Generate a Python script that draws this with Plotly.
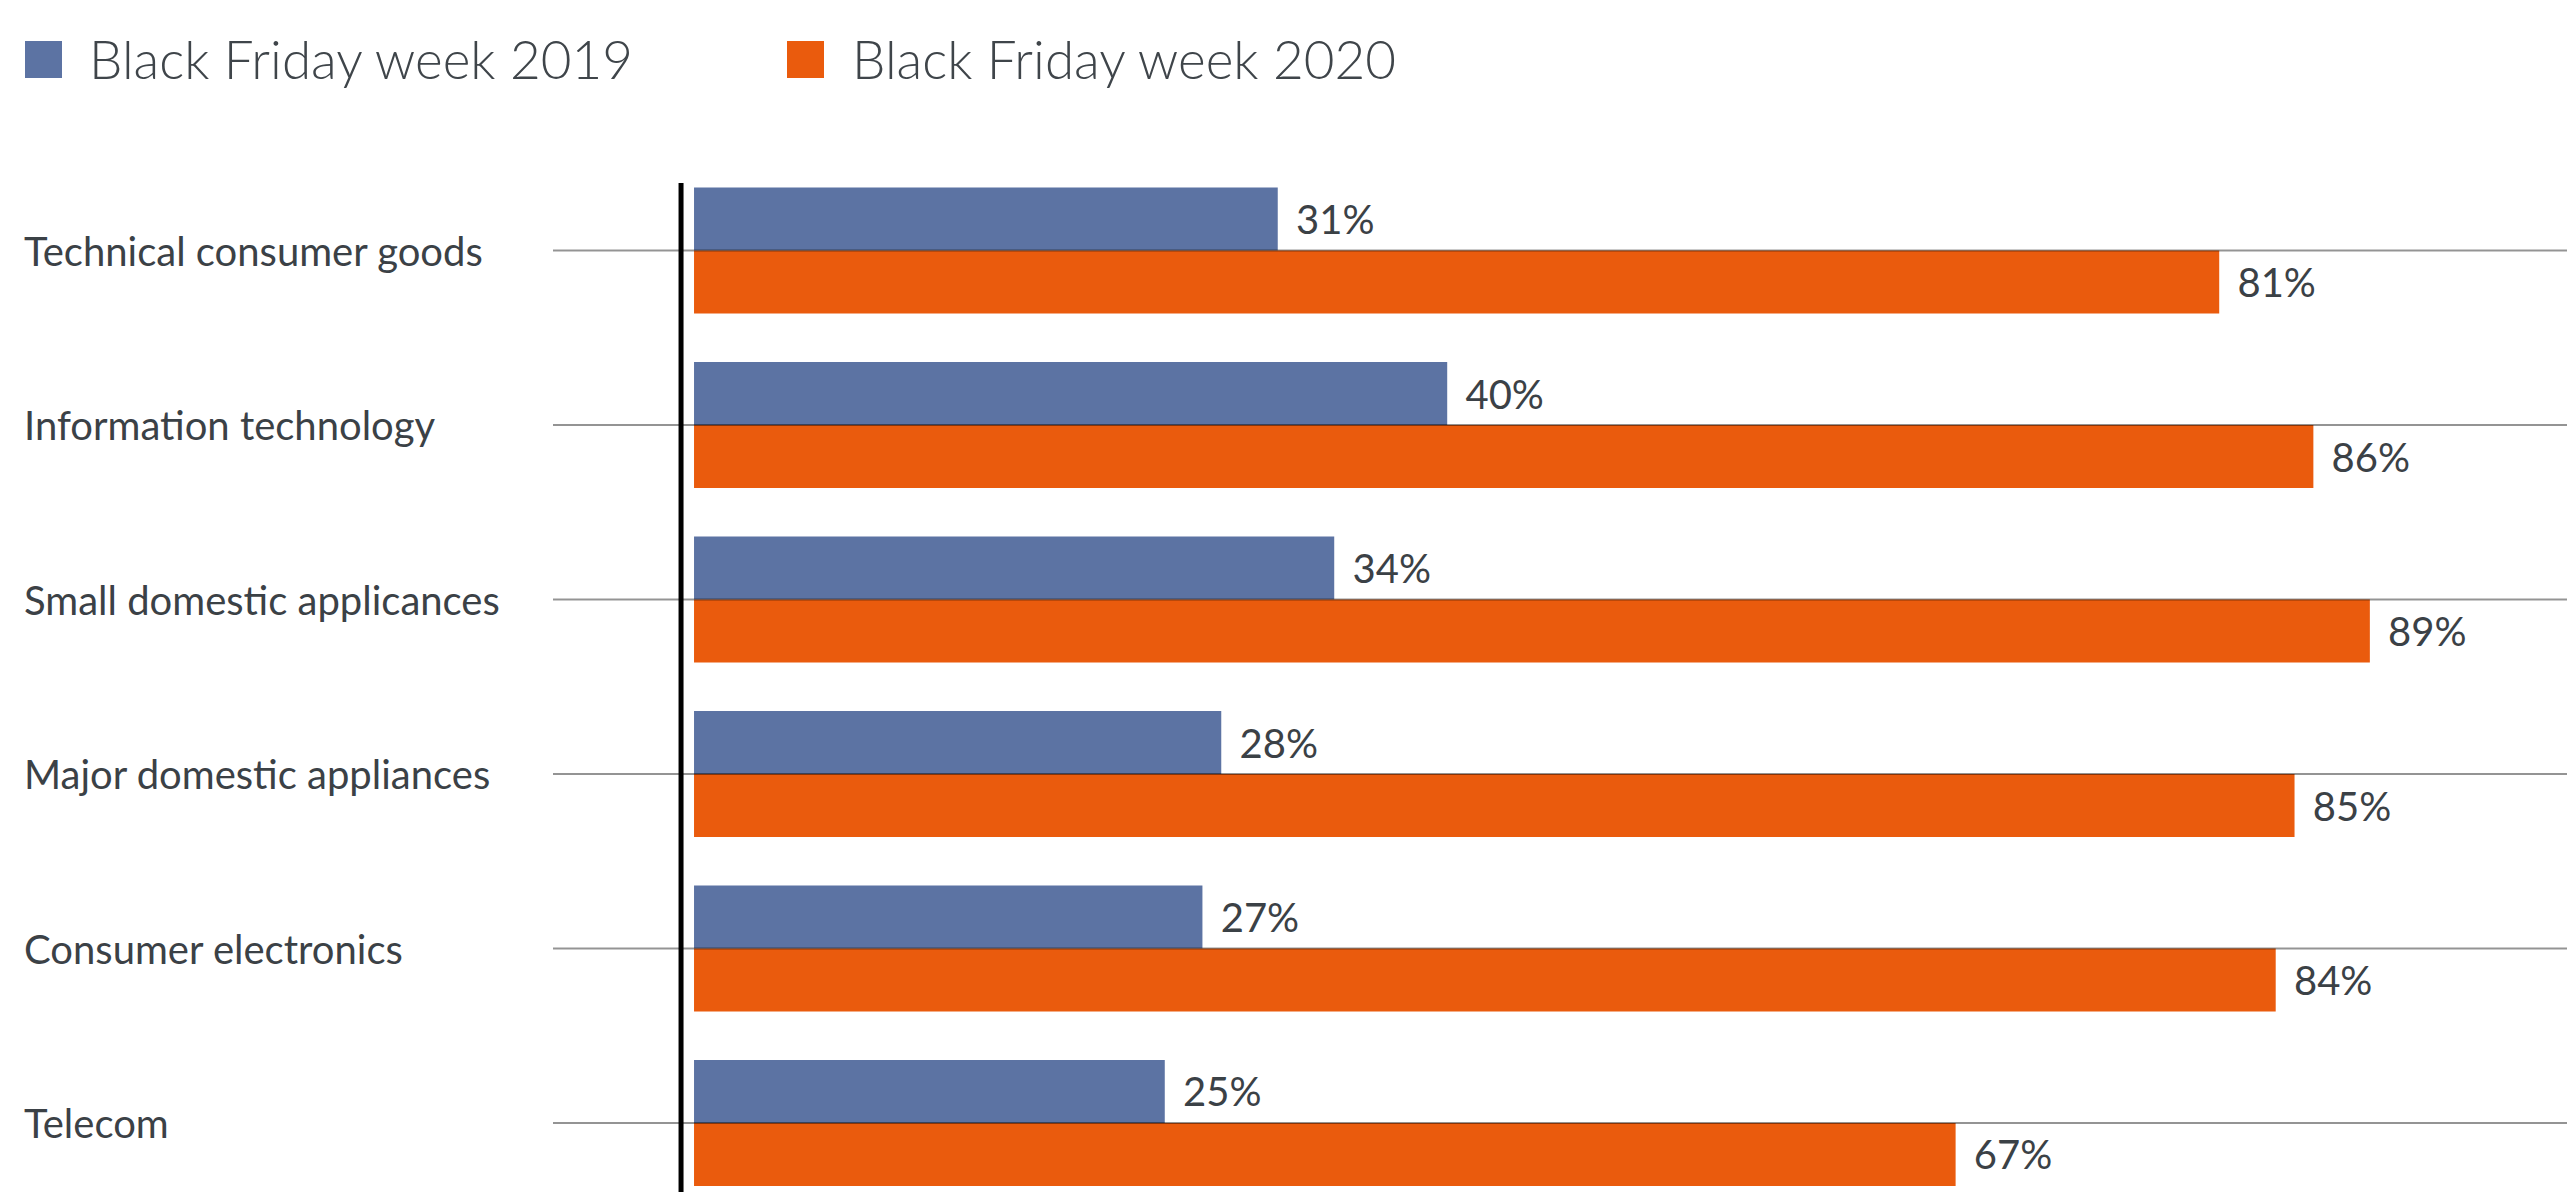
import plotly.graph_objects as go

categories = ["Technical consumer goods", "Information technology", "Small domestic applicances",
              "Major domestic appliances", "Consumer electronics", "Telecom"]
values_2019 = [31, 40, 34, 28, 27, 25]
values_2020 = [81, 86, 89, 85, 84, 67]
series_names = ["Black Friday week 2019", "Black Friday week 2020"]
colors = ["#5C73A3", "#EA5B0D"]

W, H = 2567, 1192
ML, MR, MT, MB = 553, 0, 183, 2
PW, PH = W - ML - MR, H - MT - MB


def px_x(x):
    return (x - ML) / PW


def px_y(y):
    return (H - MB - y) / PH


TEXT = "#3B4146"
FONT = "Lato"

fig = go.Figure()
for name, vals, col in zip(series_names, [values_2019, values_2020], colors):
    fig.add_trace(go.Bar(
        y=categories, x=vals, orientation="h", name=name,
        marker=dict(color=col, line=dict(width=0)),
        text=[f"\u00a0\u2009{v}%" for v in vals], textposition="outside",
        textfont=dict(family=FONT, size=40, color=TEXT),
        cliponaxis=False, showlegend=False,
    ))

shapes = []
# gridlines through category centres (drawn above bars)
for c in categories:
    shapes.append(dict(type="line", xref="paper", yref="y", x0=0, x1=1, y0=c, y1=c,
                       line=dict(color="rgba(0,0,0,0.42)", width=2), layer="above"))
# vertical axis line
shapes.append(dict(type="line", xref="x", yref="paper", x0=-0.69, x1=-0.69, y0=-0.01, y1=1,
                   line=dict(color="#000000", width=5), layer="above"))

annotations = []
for c in categories:
    annotations.append(dict(xref="paper", yref="y", x=px_x(22), y=c, text=c, showarrow=False,
                            xanchor="left", yanchor="middle",
                            font=dict(family=FONT, size=40, color=TEXT)))

# custom legend
leg_sq = [(25, 41), (787, 41)]
leg_txt = [87, 850]
for (sx, sy), tx, name, col in zip(leg_sq, leg_txt, series_names, colors):
    shapes.append(dict(type="rect", xref="paper", yref="paper",
                       x0=px_x(sx), x1=px_x(sx + 37), y0=px_y(sy + 37), y1=px_y(sy),
                       fillcolor=col, line=dict(width=0)))
    annotations.append(dict(xref="paper", yref="paper", x=px_x(tx), y=px_y(59), text=name,
                            showarrow=False, xanchor="left", yanchor="middle",
                            font=dict(family=FONT, size=53, color="#3F454A", weight=300)))

fig.update_layout(
    width=W, height=H,
    margin=dict(l=ML, r=MR, t=MT, b=MB, pad=0),
    paper_bgcolor="white", plot_bgcolor="white",
    barmode="group", bargap=0.278, bargroupgap=0,
    xaxis=dict(range=[-7.49, 99.47], showgrid=False, zeroline=False, showticklabels=False,
               showline=False, ticks=""),
    yaxis=dict(range=[5.384, -0.387], showgrid=False, zeroline=False, showticklabels=False,
               showline=False, ticks=""),
    shapes=shapes, annotations=annotations,
    showlegend=False,
)

fig.write_html("out.html", config={"displayModeBar": False},
               post_script="document.body.style.margin='0';document.body.style.overflow='hidden';")
